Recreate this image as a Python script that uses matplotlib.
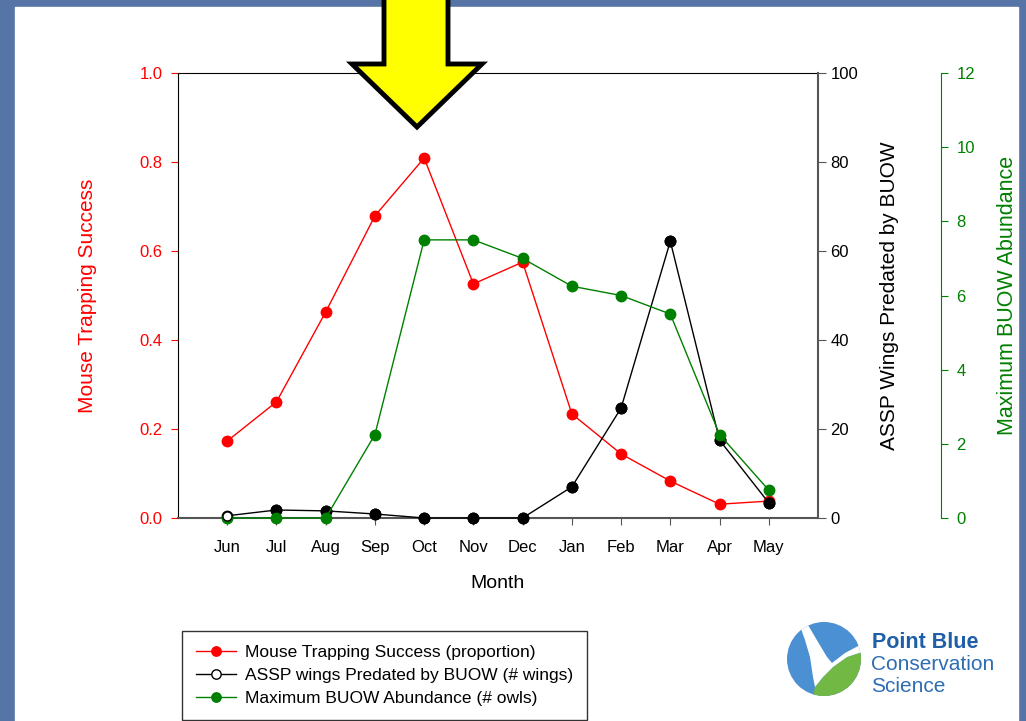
import matplotlib
matplotlib.use("Agg")
import matplotlib.pyplot as plt
from matplotlib.patches import Polygon, Rectangle, Circle
import numpy as np

plt.rcParams["font.family"] = ["Liberation Sans", "DejaVu Sans"]

# data
months = ["Jun", "Jul", "Aug", "Sep", "Oct", "Nov", "Dec", "Jan", "Feb", "Mar", "Apr", "May"]
mouse_success = [0.173, 0.261, 0.463, 0.679, 0.809, 0.526, 0.575, 0.234, 0.144, 0.083, 0.031, 0.038]
assp_wings = [0.5, 1.8, 1.6, 0.9, 0, 0, 0, 7, 24.7, 62.2, 17.5, 3.4]
buow_max = [0, 0, 0, 2.25, 7.5, 7.5, 7.0, 6.25, 6.0, 5.5, 2.25, 0.75]

RED = "#ff0000"
GREEN = "#008000"
GREY = "#555555"
SLIDE_BLUE = "#5674a6"

fig = plt.figure(figsize=(10.26, 7.21), dpi=100)
fig.patch.set_facecolor(SLIDE_BLUE)

# white slide area behind everything (pixel coords)
bg = fig.add_axes([0, 0, 1, 1], zorder=-10)
bg.set_xlim(0, 1026)
bg.set_ylim(721, 0)
bg.axis("off")
bg.add_patch(Rectangle((15, 7), 1003, 720, color="white"))

x = np.arange(len(months))
ms = 7.5

# left axis: mouse trapping success
ax = fig.add_axes([178 / 1026, 203 / 721, 640 / 1026, 445 / 721])
ax.plot(x, mouse_success, color=RED, lw=1, marker="o", ms=ms, mec=RED, mfc=RED,
        clip_on=False, label="Mouse Trapping Success (proportion)")
ax.set_xlim(-1, 12)
ax.set_ylim(0, 1)
ax.set_xticks(x)
ax.set_xticklabels(months, fontsize=12)
ax.set_yticks(np.arange(0, 1.01, 0.2))
ax.set_yticklabels([f"{v:.1f}" for v in np.arange(0, 1.01, 0.2)], fontsize=12)
ax.tick_params(axis="x", direction="out", length=5, color=GREY, pad=11)
ax.tick_params(axis="y", direction="out", length=5, color=RED, labelcolor=RED, pad=6)
ax.set_ylabel("Mouse Trapping Success", color=RED, fontsize=15, labelpad=31)
ax.set_xlabel("Month", fontsize=14, labelpad=14)
ax.spines["right"].set_visible(False)
ax.spines["bottom"].set_color(GREY)
ax.spines["bottom"].set_linewidth(1.5)

# right axis: ASSP wings
ax2 = ax.twinx()
ax2.plot(x, assp_wings, color="black", lw=1, marker="o", ms=ms, mec="black", mfc="white",
         clip_on=False, label="ASSP wings Predated by BUOW (# wings)")
ax2.plot(x[1:], assp_wings[1:], "o", color="black", ms=ms, clip_on=False)
ax2.set_ylim(0, 100)
ax2.set_yticks(np.arange(0, 101, 20))
ax2.tick_params(axis="y", direction="out", length=6, color=GREY, labelsize=12, pad=3)
ax2.set_ylabel("ASSP Wings Predated by BUOW", fontsize=15, labelpad=16)
for s in ["left", "top", "bottom"]:
    ax2.spines[s].set_visible(False)
ax2.spines["right"].set_color(GREY)
ax2.spines["right"].set_linewidth(1.5)

# second right axis: BUOW abundance
ax3 = ax.twinx()
ax3.plot(x, buow_max, color=GREEN, lw=1, marker="o", ms=ms, mec=GREEN, mfc=GREEN,
         clip_on=False, label="Maximum BUOW Abundance (# owls)")
# the open Jun wing marker sits on top of the green one
ax3.plot(x[:1], assp_wings[:1], "o", ms=ms - 1, mec="black", mfc="white",
         transform=ax2.transData, clip_on=False)
ax3.set_ylim(0, 12)
ax3.set_yticks(np.arange(0, 13, 2))
ax3.spines["right"].set_position(("axes", 1 + 123 / 640))
for s in ["left", "top", "bottom"]:
    ax3.spines[s].set_visible(False)
ax3.spines["right"].set_color(GREEN)
ax3.tick_params(axis="y", direction="out", length=5, color=GREEN, labelcolor=GREEN,
                labelsize=12, pad=6)
ax3.set_ylabel("Maximum BUOW Abundance", color=GREEN, fontsize=15.5, labelpad=16)

# legend below the chart
handles = [ax.get_lines()[0], ax2.get_lines()[0], ax3.get_lines()[0]]
leg = fig.legend(handles=handles, labels=[h.get_label() for h in handles],
                 loc="upper left", bbox_to_anchor=(182 / 1026, 1 - 631 / 721),
                 fontsize=12.5, frameon=True, fancybox=False, edgecolor="black",
                 handlelength=2.3, labelspacing=0.45, borderpad=0.8, handletextpad=0.55,
                 markerscale=0.9, borderaxespad=0)
leg.get_frame().set_linewidth(1)

# overlay for the slide decorations
deco = fig.add_axes([0, 0, 1, 1], zorder=20)
deco.set_xlim(0, 1026)
deco.set_ylim(721, 0)
deco.axis("off")
deco.patch.set_alpha(0)

arrow = Polygon([(384, -10), (448, -10), (448, 64), (482, 64), (417, 127),
                 (352, 64), (384, 64)], closed=True, facecolor="#ffff00",
                edgecolor="black", lw=3.5, joinstyle="miter")
deco.add_patch(arrow)

# Point Blue logo
circ = Circle((824, 659), 37, facecolor="#4a90d2", edgecolor="none")
deco.add_patch(circ)
green = Polygon([(815, 687), (823, 677), (833, 667), (847, 657), (862, 652),
                 (870, 652), (870, 710), (810, 710)], closed=True,
                facecolor="#72b845", edgecolor="none")
green.set_clip_path(circ)
deco.add_patch(green)
swoosh = Polygon([(800, 626), (808, 625), (818, 642), (827, 657), (832, 663),
                  (845, 653), (860, 645), (862, 652), (847, 657), (833, 667),
                  (823, 677), (815, 687), (813, 677), (810, 657), (805, 640)],
                 closed=True, facecolor="white", edgecolor="none")
swoosh.set_clip_path(circ)
deco.add_patch(swoosh)
deco.text(872, 643, "Point Blue", fontsize=15.5, fontweight="bold", color="#1f5fa8",
          ha="left", va="center")
deco.text(871, 665, "Conservation", fontsize=15, color="#2d6db3", ha="left", va="center")
deco.text(871, 686, "Science", fontsize=15, color="#2d6db3", ha="left", va="center")

fig.savefig("out.png", dpi=100, facecolor=fig.get_facecolor())
